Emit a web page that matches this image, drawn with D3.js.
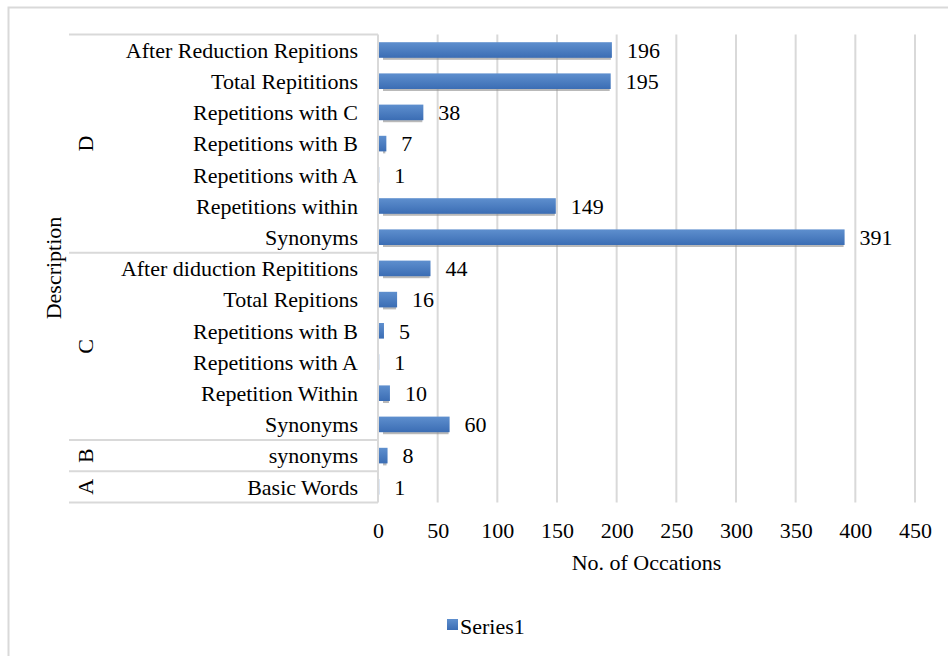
<!DOCTYPE html>
<html><head><meta charset="utf-8">
<script src="https://cdn.jsdelivr.net/npm/d3@7"></script>
<style>body{margin:0;background:#fff}svg{display:block}text{font-family:"Liberation Serif","Times New Roman",serif;fill:#000}</style>
</head><body>
<script>
const groups = ["D","D","D","D","D","D","D","C","C","C","C","C","C","B","A"];
const categories = ["After Reduction Repitions","Total Repititions","Repetitions with C","Repetitions with B","Repetitions with A","Repetitions within","Synonyms","After diduction Repititions","Total Repitions","Repetitions with B","Repetitions with A","Repetition Within","Synonyms","synonyms","Basic Words"];
const values = [196,195,38,7,1,149,391,44,16,5,1,10,60,8,1];
const xTicks = [0,50,100,150,200,250,300,350,400,450];
const seriesName = "Series1";

const W=948,H=656,FS=22;
const svg=d3.select("body").append("svg").attr("width",W).attr("height",H);
const defs=svg.append("defs");
const g1=defs.append("linearGradient").attr("id","bg").attr("x1",0).attr("y1",0).attr("x2",0).attr("y2",1);
g1.append("stop").attr("offset","0%").attr("stop-color","#5e8fce");
g1.append("stop").attr("offset","100%").attr("stop-color","#3b6db4");

svg.append("rect").attr("x",8.5).attr("y",7.5).attr("width",W).attr("height",H).attr("fill","none").attr("stroke","#d9d9d9").attr("stroke-width",2);

const x=d3.scaleLinear().domain([0,450]).range([378,915]);
const ids=categories.map((c,i)=>i);
const y=d3.scaleBand().domain(ids).range([34.4,502.4]).paddingInner(0.5).paddingOuter(0.25);
const step=y.step();

svg.append("g").selectAll("line").data(xTicks.slice(1)).join("line")
 .attr("x1",d=>x(d)).attr("x2",d=>x(d)).attr("y1",34.4).attr("y2",502.4)
 .attr("stroke","#d9d9d9").attr("stroke-width",2);

svg.append("line").attr("x1",378).attr("x2",378).attr("y1",34.4).attr("y2",502.4).attr("stroke","#d9d9d9").attr("stroke-width",2);

const grpNames=[...new Set(groups)];
const grpInfo=grpNames.map(gn=>{const idx=groups.map((g,i)=>g===gn?i:-1).filter(i=>i>=0);return {name:gn,start:idx[0],end:idx[idx.length-1]};});
const bounds=[0,...grpInfo.map(d=>d.end+1)];
svg.append("g").selectAll("line").data(bounds).join("line")
 .attr("x1",69).attr("x2",378).attr("y1",d=>34.4+d*step).attr("y2",d=>34.4+d*step)
 .attr("stroke","#d9d9d9").attr("stroke-width",2);

svg.append("g").selectAll("text").data(grpInfo).join("text")
 .attr("transform",d=>`translate(93,${34.4+(d.start+d.end+1)/2*step}) rotate(-90)`)
 .attr("text-anchor","middle").attr("font-size",FS).text(d=>d.name);

svg.append("g").selectAll("text").data(ids).join("text")
 .attr("x",358).attr("y",i=>y(i)+y.bandwidth()/2).attr("dy","0.35em")
 .attr("text-anchor","end").attr("font-size",FS).text(i=>categories[i]);

svg.append("g").selectAll("rect").data(ids).join("rect")
 .attr("x",x(0)+5).attr("y",i=>y(i)+2).attr("width",i=>Math.max(0,x(values[i])-x(0)-6)).attr("height",y.bandwidth())
 .attr("fill","#8a8a8a").attr("opacity",0.6);
svg.append("g").selectAll("rect").data(ids).join("rect")
 .attr("x",x(0)+1).attr("y",i=>y(i)).attr("width",i=>Math.max(0,x(values[i])-x(0)-1))
 .attr("height",y.bandwidth()).attr("fill","url(#bg)");

svg.append("g").selectAll("text").data(ids).join("text")
 .attr("x",i=>x(values[i])+15).attr("y",i=>y(i)+y.bandwidth()/2).attr("dy","0.35em")
 .attr("font-size",FS).text(i=>values[i]);

const xa=svg.append("g").attr("transform","translate(0,502.4)").call(d3.axisBottom(x).tickValues(xTicks).tickSize(0).tickPadding(20));
xa.select(".domain").remove();
xa.selectAll("text").attr("font-size",FS).attr("font-family","Liberation Serif").attr("fill","#000").attr("dy","0.71em");

svg.append("text").attr("x",(378+915)/2).attr("y",570).attr("text-anchor","middle").attr("font-size",FS).text("No. of Occations");
svg.append("text").attr("transform","translate(61,268) rotate(-90)").attr("text-anchor","middle").attr("font-size",FS).text("Description");

svg.append("rect").attr("x",447).attr("y",619).attr("width",11).attr("height",11).attr("fill","url(#bg)");
svg.append("text").attr("x",460).attr("y",626).attr("dy","0.35em").attr("font-size",FS).text(seriesName);
</script>
</body></html>
